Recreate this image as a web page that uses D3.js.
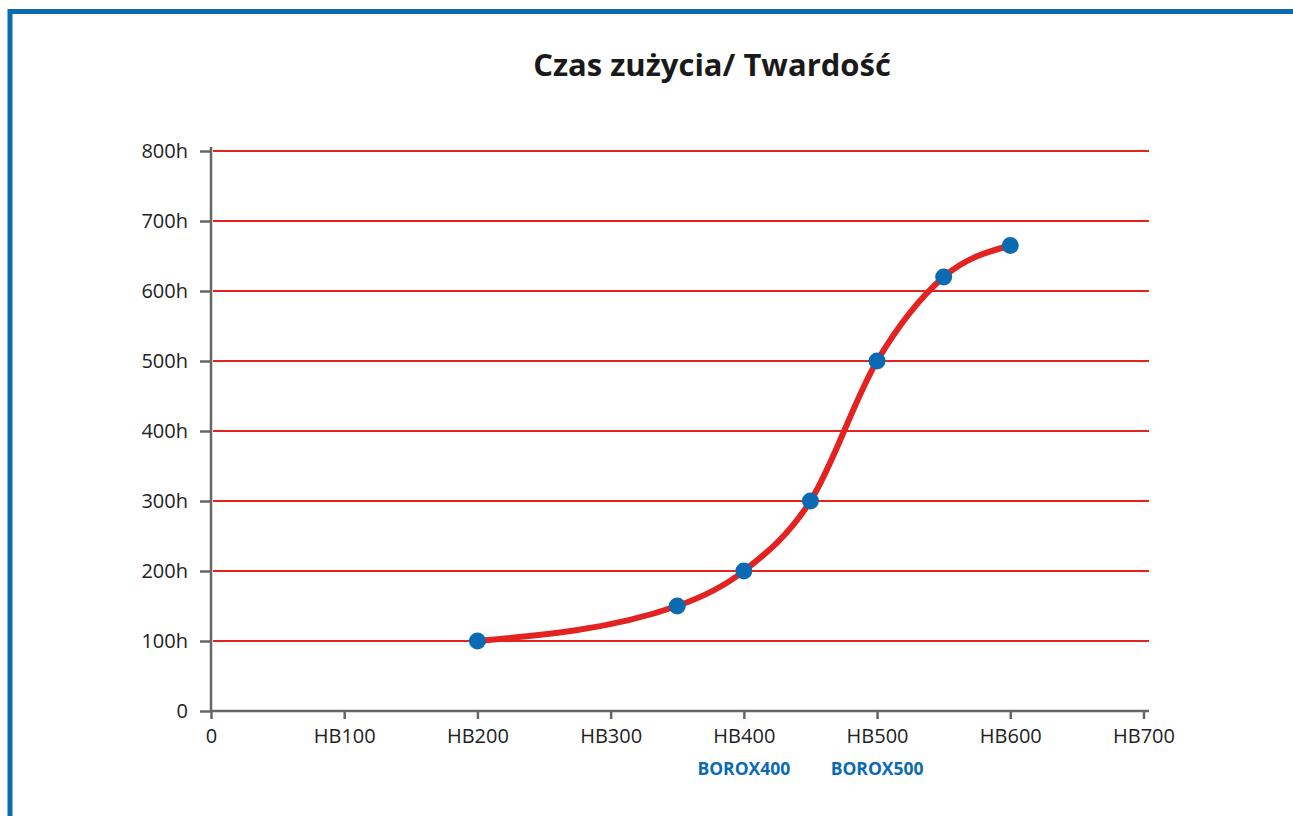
<!DOCTYPE html>
<html>
<head>
<meta charset="utf-8">
<script src="https://cdn.jsdelivr.net/npm/d3@7"></script>
<style>
  body { margin: 0; background: #fff; }
  svg { display: block; font-family: "Open Sans", sans-serif; }
</style>
</head>
<body>
<div id="holder"></div>
<script>
const hardness = [200, 350, 400, 450, 500, 550, 600];
const hours = [100, 150, 200, 300, 500, 620, 665];
const xTicks = [0, 100, 200, 300, 400, 500, 600, 700];
const xTickLabels = ["0", "HB100", "HB200", "HB300", "HB400", "HB500", "HB600", "HB700"];
const yTicks = [0, 100, 200, 300, 400, 500, 600, 700, 800];
const yTickLabels = ["0", "100h", "200h", "300h", "400h", "500h", "600h", "700h", "800h"];
const products = [{ hb: 400, name: "BOROX400" }, { hb: 500, name: "BOROX500" }];

const width = 1293, height = 816;
const blue = "#0b6ab2", red = "#e32322", axisGray = "#666";

const svg = d3.select("#holder").append("svg")
  .attr("width", width).attr("height", height);

// frame
svg.append("path")
  .attr("d", `M10,${height} L10,11.5 L${width},11.5`)
  .attr("fill", "none").attr("stroke", blue).attr("stroke-width", 5);

svg.append("text")
  .attr("x", 712).attr("y", 76)
  .attr("text-anchor", "middle")
  .attr("font-size", 31).attr("font-weight", "bold").attr("fill", "#1a1a1a")
  .text("Czas zużycia/ Twardość");

const x = d3.scaleLinear().domain([0, 700]).range([211, 1143.5]);
const y = d3.scaleLinear().domain([0, 800]).range([711, 151]);

// grid
svg.append("g").selectAll("line")
  .data(yTicks.filter(d => d > 0))
  .enter().append("line")
  .attr("x1", 213).attr("x2", 1149)
  .attr("y1", d => y(d)).attr("y2", d => y(d))
  .attr("stroke", red).attr("stroke-width", 2);

const yAxis = svg.append("g")
  .attr("transform", `translate(${x(0)},0)`)
  .call(d3.axisLeft(y).tickValues(yTicks).tickSize(11).tickPadding(12)
    .tickFormat((d, i) => yTickLabels[i]));
yAxis.select(".domain").attr("d", `M0,147V${y(0)}`);

const xAxis = svg.append("g")
  .attr("transform", `translate(0,${y(0)})`)
  .call(d3.axisBottom(x).tickValues(xTicks).tickSize(8).tickPadding(5)
    .tickFormat((d, i) => xTickLabels[i]));
xAxis.select(".domain").attr("d", `M${x(0)},0H1149`);

[xAxis, yAxis].forEach(g => {
  g.select(".domain").attr("stroke", axisGray).attr("stroke-width", 2.5);
  g.selectAll(".tick line").attr("stroke", axisGray).attr("stroke-width", 2.5);
  g.selectAll(".tick text").attr("font-size", 20).attr("fill", "#222")
    .attr("font-family", "Open Sans, sans-serif");
});
xAxis.selectAll(".tick text").attr("dy", "0.95em");

svg.append("g").selectAll("text")
  .data(products)
  .enter().append("text")
  .attr("x", d => x(d.hb)).attr("y", 775)
  .attr("text-anchor", "middle")
  .attr("font-size", 17.5).attr("font-weight", "bold").attr("fill", blue)
  .text(d => d.name);

const points = hardness.map((h, i) => [h, hours[i]]);
const line = d3.line()
  .x(d => x(d[0])).y(d => y(d[1]))
  .curve(d3.curveMonotoneX);

svg.append("path")
  .datum(points)
  .attr("d", line)
  .attr("fill", "none").attr("stroke", red).attr("stroke-width", 6)
  .attr("stroke-linecap", "round");

svg.append("g").selectAll("circle")
  .data(points)
  .enter().append("circle")
  .attr("cx", d => x(d[0])).attr("cy", d => y(d[1]))
  .attr("r", 8.5).attr("fill", blue);
</script>
</body>
</html>
